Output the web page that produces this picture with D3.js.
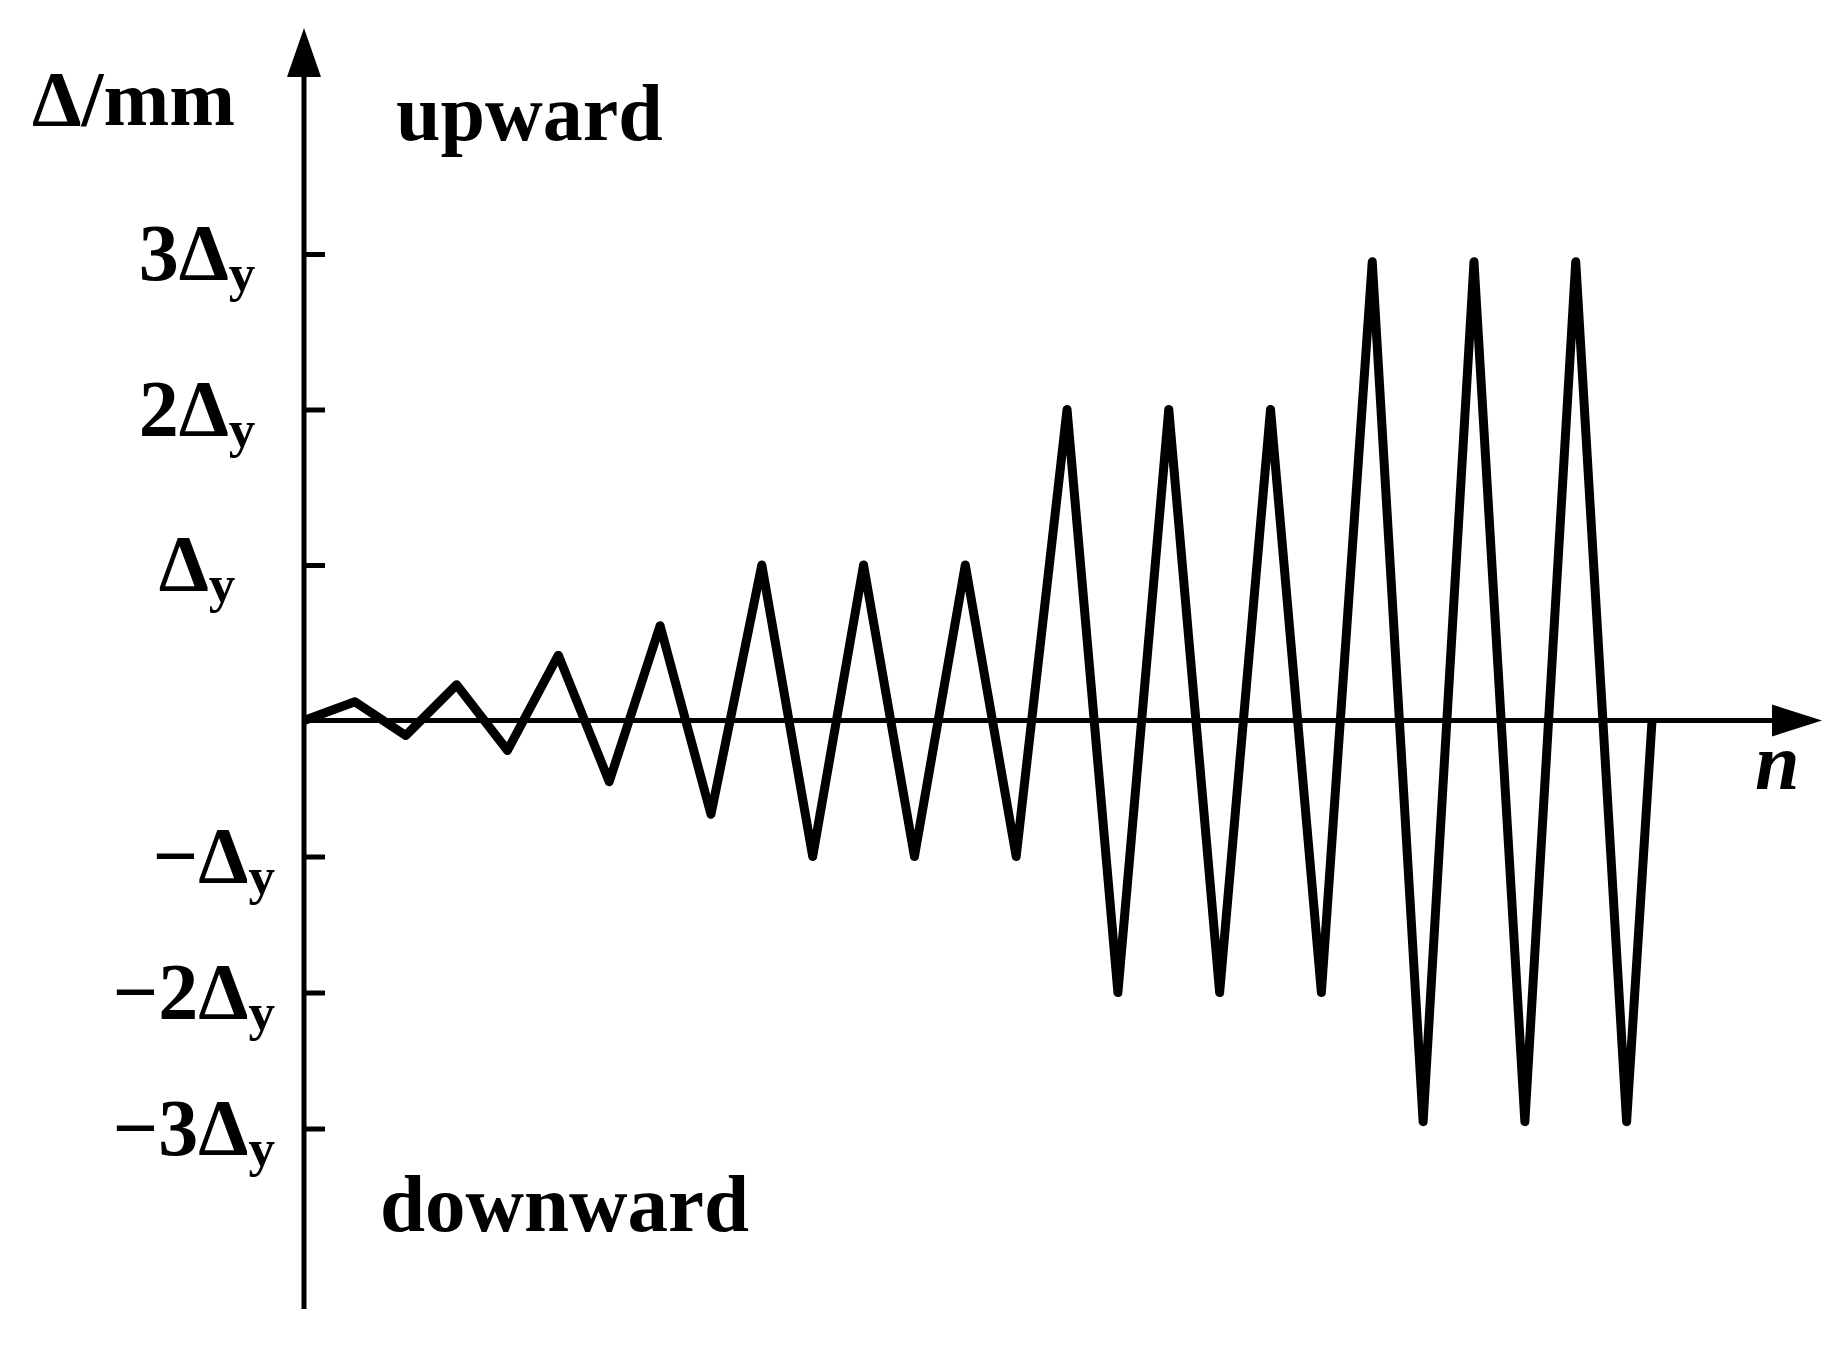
<!DOCTYPE html>
<meta charset="utf-8">
<script src="https://d3js.org/d3.v7.min.js"></script>
<style>
  body { margin: 0; background: #fff; }
  text { font-family: "Liberation Serif", "Times New Roman", serif; font-weight: bold; fill: #000; }
</style>
<div id="chart"></div>
<script>

// cycle number n and displacement (in units of Δy)
var cycles = [0, 1, 2, 3, 4, 5, 6, 7, 8, 9, 10, 11, 12, 13, 14, 15, 16, 17, 18, 19, 20, 21, 22, 23, 24, 25, 26, 26.5];
var disp = [0, 0.12, -0.11, 0.23, -0.22, 0.42, -0.45, 0.61, -0.69, 1, -1, 1, -1, 1, -1,
            2, -2, 2, -2, 2, -2, 2.95, -2.95, 2.95, -2.95, 2.95, -2.95, 0];

// y ticks and their labels (number part, subscript)
var tickValues = [3, 2, 1, -1, -2, -3];
var tickMain = ["3Δ", "2Δ", "Δ", "−Δ", "−2Δ", "−3Δ"];
var tickSub = ["y", "y", "y", "y", "y", "y"];

var width = 1843, height = 1345;

var svg = d3.select("#chart")
  .append("svg")
  .attr("width", width)
  .attr("height", height);

// upward and downward sides are drawn with different spacing in the original
var x = d3.scaleLinear().domain([0, 26]).range([304, 1626.6]);
var y = d3.scaleLinear().domain([-3, 0, 3]).range([1128.5, 720.5, 254]);

var x0 = x(0), y0 = y(0);

// vertical axis line + arrow
svg.append("line")
  .attr("x1", x0).attr("x2", x0)
  .attr("y1", 1309).attr("y2", 70)
  .attr("stroke", "#000").attr("stroke-width", 5);
svg.append("path")
  .attr("d", "M" + x0 + ",28 L" + (x0 - 17) + ",77 L" + (x0 + 17) + ",77 Z")
  .attr("fill", "#000");

// horizontal axis line + arrow
svg.append("line")
  .attr("x1", x0).attr("x2", 1780)
  .attr("y1", y0).attr("y2", y0)
  .attr("stroke", "#000").attr("stroke-width", 5);
svg.append("path")
  .attr("d", "M1822," + y0 + " L1772," + (y0 - 16) + " L1772," + (y0 + 16) + " Z")
  .attr("fill", "#000");

// ticks pointing right
var yAxis = d3.axisRight(y)
  .tickValues(tickValues)
  .tickSize(22)
  .tickFormat("");
var gy = svg.append("g")
  .attr("transform", "translate(" + (x0 - 1) + ",0)")
  .call(yAxis);
gy.select(".domain").remove();
gy.selectAll(".tick line").attr("stroke", "#000").attr("stroke-width", 5);

// tick labels
var labels = svg.selectAll(".ylab")
  .data(tickValues)
  .enter()
  .append("text")
  .attr("class", "ylab")
  .attr("x", function(d) { return d > 0 ? 197 : 275; })
  .attr("y", function(d) { return y(d) + 26; })
  .attr("text-anchor", function(d) { return d > 0 ? "middle" : "end"; })
  .style("font-size", "80px");
labels.append("tspan")
  .text(function(d, i) { return tickMain[i]; });
labels.append("tspan")
  .attr("dy", 11)
  .style("font-size", "53px")
  .text(function(d, i) { return tickSub[i]; });

// the loading history
var line = d3.line()
  .x(function(d, i) { return x(cycles[i]); })
  .y(function(d) { return y(d); });

svg.append("path")
  .datum(disp)
  .attr("d", line)
  .attr("fill", "none")
  .attr("stroke", "#000")
  .attr("stroke-width", 9)
  .attr("stroke-linejoin", "round");

// titles
svg.append("text")
  .attr("x", 32).attr("y", 125)
  .style("font-size", "79px")
  .text("Δ/mm");

svg.append("text")
  .attr("x", 396).attr("y", 140)
  .style("font-size", "80px")
  .text("upward");

svg.append("text")
  .attr("x", 380).attr("y", 1231)
  .style("font-size", "81px")
  .text("downward");

svg.append("text")
  .attr("x", 1755).attr("y", 789)
  .style("font-size", "80px")
  .style("font-style", "italic")
  .text("n");

</script>
